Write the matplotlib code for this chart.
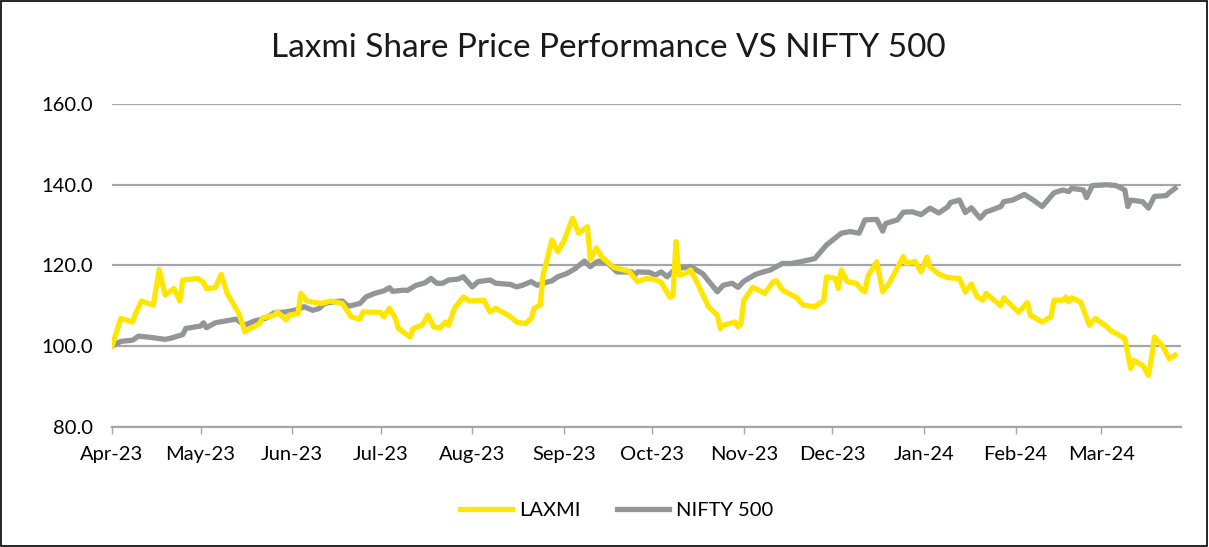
import pandas as pd
import matplotlib.pyplot as plt
import matplotlib.dates as mdates
from matplotlib.patches import Rectangle

# LAXMI (rebased to 100)
laxmi_dates = [
    "2023-04-01", "2023-04-04", "2023-04-08", "2023-04-09", "2023-04-11", "2023-04-15",
    "2023-04-17", "2023-04-19", "2023-04-22", "2023-04-24", "2023-04-25", "2023-04-30",
    "2023-05-02", "2023-05-03", "2023-05-06", "2023-05-08", "2023-05-10", "2023-05-14",
    "2023-05-16", "2023-05-19", "2023-05-21", "2023-05-22", "2023-05-26", "2023-05-27",
    "2023-05-30", "2023-05-31", "2023-06-03", "2023-06-04", "2023-06-06", "2023-06-11",
    "2023-06-14", "2023-06-18", "2023-06-21", "2023-06-24", "2023-06-25", "2023-07-01",
    "2023-07-02", "2023-07-04", "2023-07-06", "2023-07-07", "2023-07-11", "2023-07-12",
    "2023-07-15", "2023-07-17", "2023-07-19", "2023-07-21", "2023-07-23", "2023-07-24",
    "2023-07-26", "2023-07-29", "2023-07-31", "2023-08-05", "2023-08-07", "2023-08-09",
    "2023-08-14", "2023-08-16", "2023-08-19", "2023-08-21", "2023-08-22", "2023-08-24",
    "2023-08-25", "2023-08-28", "2023-08-30", "2023-09-01", "2023-09-04", "2023-09-06",
    "2023-09-09", "2023-09-10", "2023-09-12", "2023-09-14", "2023-09-18", "2023-09-23",
    "2023-09-26", "2023-09-29", "2023-10-02", "2023-10-04", "2023-10-07", "2023-10-08",
    "2023-10-09", "2023-10-10", "2023-10-12", "2023-10-14", "2023-10-16", "2023-10-20",
    "2023-10-23", "2023-10-24", "2023-10-25", "2023-10-29", "2023-10-30", "2023-10-31",
    "2023-11-01", "2023-11-04", "2023-11-06", "2023-11-08", "2023-11-11", "2023-11-12",
    "2023-11-14", "2023-11-19", "2023-11-21", "2023-11-25", "2023-11-28", "2023-11-29",
    "2023-12-02", "2023-12-03", "2023-12-04", "2023-12-06", "2023-12-09", "2023-12-11",
    "2023-12-12", "2023-12-13", "2023-12-16", "2023-12-18", "2023-12-20", "2023-12-25",
    "2023-12-26", "2023-12-29", "2023-12-31", "2024-01-02", "2024-01-03", "2024-01-06",
    "2024-01-09", "2024-01-13", "2024-01-15", "2024-01-17", "2024-01-19", "2024-01-21",
    "2024-01-22", "2024-01-26", "2024-01-27", "2024-01-28", "2024-02-02", "2024-02-05",
    "2024-02-06", "2024-02-10", "2024-02-13", "2024-02-14", "2024-02-17", "2024-02-18",
    "2024-02-19", "2024-02-20", "2024-02-23", "2024-02-26", "2024-02-28", "2024-03-03",
    "2024-03-04", "2024-03-09", "2024-03-11", "2024-03-12", "2024-03-15", "2024-03-17",
    "2024-03-18", "2024-03-19", "2024-03-22", "2024-03-24", "2024-03-26",
]
laxmi_values = [
    100.0, 106.9, 106.0, 108.1, 111.2, 110.2,
    119.0, 112.7, 114.3, 111.2, 116.4, 116.8,
    115.8, 114.3, 114.5, 117.8, 113.1, 108.1,
    103.6, 104.8, 105.6, 107.0, 107.7, 108.5,
    106.5, 107.7, 108.1, 113.1, 111.2, 110.6,
    111.2, 110.6, 107.3, 106.7, 108.5, 108.4,
    107.3, 109.4, 106.9, 104.4, 102.3, 104.4,
    105.2, 107.7, 104.8, 104.5, 106.0, 105.2,
    109.4, 112.2, 111.2, 111.4, 108.5, 109.4,
    107.3, 106.0, 105.6, 106.9, 109.4, 110.2,
    117.6, 126.3, 123.4, 126.0, 131.7, 128.0,
    129.6, 121.5, 124.4, 122.0, 119.5, 118.6,
    116.0, 116.8, 116.5, 115.8, 112.1, 112.5,
    125.9, 117.6, 118.0, 118.9, 116.0, 109.8,
    107.7, 104.4, 105.2, 106.0, 104.8, 105.5,
    111.4, 114.6, 113.9, 113.1, 116.0, 116.2,
    113.9, 112.0, 110.2, 109.8, 111.3, 117.2,
    116.8, 114.3, 118.9, 116.0, 115.6, 113.9,
    113.5, 117.4, 120.9, 113.5, 115.4, 122.2,
    120.5, 121.0, 118.4, 122.1, 119.7, 117.9,
    117.0, 116.8, 113.4, 115.4, 112.2, 111.4,
    113.1, 110.6, 110.0, 112.0, 108.4, 110.8,
    107.7, 106.0, 107.3, 111.4, 111.4, 112.2,
    111.0, 112.0, 111.0, 105.2, 106.9, 104.8,
    104.0, 101.9, 94.5, 96.5, 95.3, 92.8,
    96.9, 102.3, 99.8, 96.9, 97.8,
]

# NIFTY 500 (rebased to 100)
nifty_dates = [
    "2023-04-01", "2023-04-04", "2023-04-08", "2023-04-10", "2023-04-14", "2023-04-19",
    "2023-04-21", "2023-04-25", "2023-04-26", "2023-05-01", "2023-05-02", "2023-05-03",
    "2023-05-06", "2023-05-09", "2023-05-13", "2023-05-16", "2023-05-19", "2023-05-23",
    "2023-05-26", "2023-05-30", "2023-06-03", "2023-06-05", "2023-06-08", "2023-06-10",
    "2023-06-12", "2023-06-15", "2023-06-18", "2023-06-20", "2023-06-24", "2023-06-26",
    "2023-06-29", "2023-07-02", "2023-07-04", "2023-07-05", "2023-07-09", "2023-07-10",
    "2023-07-13", "2023-07-16", "2023-07-18", "2023-07-20", "2023-07-22", "2023-07-24",
    "2023-07-27", "2023-07-29", "2023-08-01", "2023-08-03", "2023-08-07", "2023-08-09",
    "2023-08-14", "2023-08-16", "2023-08-18", "2023-08-21", "2023-08-23", "2023-08-25",
    "2023-08-28", "2023-08-30", "2023-09-02", "2023-09-05", "2023-09-08", "2023-09-10",
    "2023-09-12", "2023-09-13", "2023-09-16", "2023-09-19", "2023-09-24", "2023-09-25",
    "2023-09-26", "2023-09-30", "2023-10-02", "2023-10-04", "2023-10-06", "2023-10-09",
    "2023-10-12", "2023-10-14", "2023-10-18", "2023-10-23", "2023-10-25", "2023-10-28",
    "2023-10-30", "2023-11-01", "2023-11-05", "2023-11-07", "2023-11-10", "2023-11-14",
    "2023-11-17", "2023-11-20", "2023-11-25", "2023-11-29", "2023-12-04", "2023-12-07",
    "2023-12-10", "2023-12-12", "2023-12-16", "2023-12-18", "2023-12-19", "2023-12-23",
    "2023-12-25", "2023-12-28", "2023-12-31", "2024-01-03", "2024-01-06", "2024-01-09",
    "2024-01-10", "2024-01-13", "2024-01-15", "2024-01-17", "2024-01-20", "2024-01-22",
    "2024-01-23", "2024-01-27", "2024-01-28", "2024-01-31", "2024-02-04", "2024-02-07",
    "2024-02-10", "2024-02-14", "2024-02-17", "2024-02-19", "2024-02-20", "2024-02-24",
    "2024-02-25", "2024-02-27", "2024-03-03", "2024-03-06", "2024-03-09", "2024-03-10",
    "2024-03-11", "2024-03-15", "2024-03-17", "2024-03-19", "2024-03-23", "2024-03-24",
    "2024-03-26",
]
nifty_values = [
    100.0, 101.2, 101.5, 102.5, 102.2, 101.7,
    102.0, 102.9, 104.4, 105.0, 105.8, 104.6,
    105.8, 106.2, 106.7, 105.2, 106.2, 106.9,
    108.3, 108.5, 109.1, 109.8, 108.9, 109.3,
    110.6, 111.0, 111.2, 109.9, 110.6, 112.2,
    113.1, 113.7, 114.5, 113.6, 113.9, 113.8,
    115.1, 115.7, 116.8, 115.6, 115.6, 116.4,
    116.6, 117.2, 114.7, 116.0, 116.4, 115.6,
    115.3, 114.7, 115.1, 116.0, 115.1, 115.6,
    116.2, 117.2, 118.0, 119.3, 121.1, 119.7,
    120.8, 121.1, 120.5, 118.4, 118.4, 117.6,
    118.4, 118.3, 117.6, 118.4, 117.2, 119.3,
    119.5, 119.7, 118.0, 113.5, 115.1, 115.6,
    114.6, 116.1, 117.8, 118.3, 118.9, 120.5,
    120.5, 120.9, 121.7, 125.1, 128.0, 128.4,
    128.0, 131.3, 131.4, 128.5, 130.4, 131.3,
    133.2, 133.3, 132.6, 134.2, 133.0, 134.5,
    135.6, 136.2, 133.1, 134.3, 131.7, 133.3,
    133.5, 134.6, 135.8, 136.2, 137.6, 136.2,
    134.6, 138.0, 138.7, 138.3, 139.1, 138.7,
    136.8, 139.8, 140.0, 139.8, 138.7, 134.6,
    136.2, 135.8, 134.2, 137.1, 137.3, 138.0,
    139.1,
]

plt.rcParams['font.family'] = ['Lato', 'DejaVu Sans']

fig = plt.figure(figsize=(12.09, 5.47), dpi=100)
ax = fig.add_axes([0.0926, 0.2194, 0.8842, 0.5905])

ax.plot(pd.to_datetime(laxmi_dates), laxmi_values, color='#FFE600', lw=3.8,
        label='LAXMI', solid_joinstyle='round', zorder=3)
ax.plot(pd.to_datetime(nifty_dates), nifty_values, color='#939598', lw=3.8,
        label='NIFTY 500', solid_joinstyle='round', zorder=2)

ax.set_ylim(80, 160)
ax.set_yticks([80, 100, 120, 140, 160])
ax.set_yticklabels([f"{v:.1f}" for v in [80, 100, 120, 140, 160]])
ax.set_xlim(pd.Timestamp("2023-04-01"), pd.Timestamp("2024-03-28"))
ax.xaxis.set_major_locator(mdates.MonthLocator())
ax.xaxis.set_major_formatter(mdates.DateFormatter('%b-%y'))

ax.grid(axis='y', color='#A6A6A6', lw=1.6)
ax.set_axisbelow(True)
for s in ['top', 'right', 'left']:
    ax.spines[s].set_visible(False)
ax.spines['bottom'].set_color('#A6A6A6')
ax.spines['bottom'].set_linewidth(1.6)
ax.tick_params(axis='y', length=0, pad=14, labelsize=14.5, labelcolor='#000000')
ax.tick_params(axis='x', length=5, color='#A6A6A6', width=1, pad=9,
               labelsize=14.5, labelcolor='#000000')

fig.text(0.503, 0.913, 'Laxmi Share Price Performance VS NIFTY 500',
         ha='center', va='center', fontsize=24, color='#1a1a1a')

fig.legend(loc='center', bbox_to_anchor=(0.51, 0.067), ncol=2, frameon=False,
           fontsize=14.5, handlelength=2.6, handletextpad=0.35, columnspacing=1.8)

fig.patches.append(Rectangle((0.001, 0.002), 0.997, 0.996, transform=fig.transFigure,
                             fill=False, edgecolor='#000000', lw=1.2))

plt.savefig('out.png', dpi=100)
